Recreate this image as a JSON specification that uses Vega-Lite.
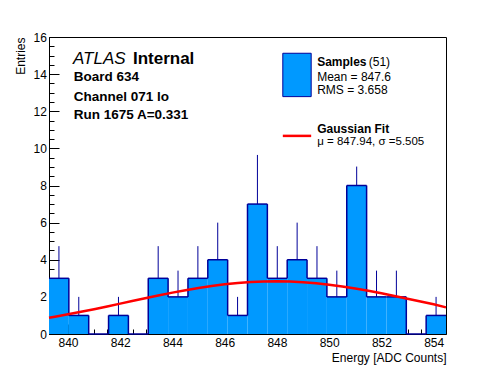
{
  "$schema": "https://vega.github.io/schema/vega-lite/v6.json",
  "width": 397,
  "height": 297,
  "autosize": "none",
  "padding": {"left": 49, "top": 37, "right": 50, "bottom": 38},
  "background": "white",
  "config": {
    "view": {"stroke": "black", "strokeWidth": 1},
    "font": "Liberation Sans",
    "text": {"font": "Liberation Sans", "color": "black"},
    "axis": {
      "grid": false,
      "zindex": 1,
      "domainColor": "black",
      "domainWidth": 1,
      "tickColor": "black",
      "tickWidth": 1,
      "labelFont": "Liberation Sans",
      "labelFontSize": 12,
      "labelColor": "black",
      "titleFont": "Liberation Sans",
      "titleFontSize": 12,
      "titleFontWeight": "normal",
      "titleColor": "black",
      "labelOverlap": false,
      "labelFlush": false
    }
  },
  "resolve": {"axis": {"x": "independent", "y": "independent"}},
  "data": {"values": [{}]},
  "datasets": {
    "hist": [
      {"lo": 839.273, "hi": 840.033, "c": 839.653, "n": 3, "up": 4.732},
      {"lo": 840.033, "hi": 840.793, "c": 840.413, "n": 1, "up": 2},
      {"lo": 840.793, "hi": 841.553, "c": 841.173, "n": 0, "up": 0},
      {"lo": 841.553, "hi": 842.313, "c": 841.933, "n": 1, "up": 2},
      {"lo": 842.313, "hi": 843.073, "c": 842.693, "n": 0, "up": 0},
      {"lo": 843.073, "hi": 843.833, "c": 843.453, "n": 3, "up": 4.732},
      {"lo": 843.833, "hi": 844.593, "c": 844.213, "n": 2, "up": 3.414},
      {"lo": 844.593, "hi": 845.353, "c": 844.973, "n": 3, "up": 4.732},
      {"lo": 845.353, "hi": 846.113, "c": 845.733, "n": 4, "up": 6},
      {"lo": 846.113, "hi": 846.873, "c": 846.493, "n": 1, "up": 2},
      {"lo": 846.873, "hi": 847.633, "c": 847.253, "n": 7, "up": 9.646},
      {"lo": 847.633, "hi": 848.393, "c": 848.013, "n": 3, "up": 4.732},
      {"lo": 848.393, "hi": 849.153, "c": 848.773, "n": 4, "up": 6},
      {"lo": 849.153, "hi": 849.913, "c": 849.533, "n": 3, "up": 4.732},
      {"lo": 849.913, "hi": 850.673, "c": 850.293, "n": 2, "up": 3.414},
      {"lo": 850.673, "hi": 851.433, "c": 851.053, "n": 8, "up": 9.02},
      {"lo": 851.433, "hi": 852.193, "c": 851.813, "n": 2, "up": 3.414},
      {"lo": 852.193, "hi": 852.953, "c": 852.573, "n": 2, "up": 3.414},
      {"lo": 852.953, "hi": 853.713, "c": 853.333, "n": 0, "up": 0},
      {"lo": 853.713, "hi": 854.473, "c": 854.093, "n": 1, "up": 2}
    ],
    "fit": [
      {"x": 839.273, "y": 0.873},
      {"x": 839.5, "y": 0.933},
      {"x": 840, "y": 1.060},
      {"x": 840.5, "y": 1.196},
      {"x": 841, "y": 1.338},
      {"x": 841.5, "y": 1.486},
      {"x": 842, "y": 1.636},
      {"x": 842.5, "y": 1.789},
      {"x": 843, "y": 1.940},
      {"x": 843.5, "y": 2.087},
      {"x": 844, "y": 2.229},
      {"x": 844.5, "y": 2.361},
      {"x": 845, "y": 2.481},
      {"x": 845.5, "y": 2.588},
      {"x": 846, "y": 2.678},
      {"x": 846.5, "y": 2.749},
      {"x": 847, "y": 2.801},
      {"x": 847.5, "y": 2.831},
      {"x": 848, "y": 2.840},
      {"x": 848.5, "y": 2.826},
      {"x": 849, "y": 2.791},
      {"x": 849.5, "y": 2.734},
      {"x": 850, "y": 2.658},
      {"x": 850.5, "y": 2.564},
      {"x": 851, "y": 2.453},
      {"x": 851.5, "y": 2.330},
      {"x": 852, "y": 2.195},
      {"x": 852.5, "y": 2.052},
      {"x": 853, "y": 1.904},
      {"x": 853.5, "y": 1.752},
      {"x": 854, "y": 1.600},
      {"x": 854.473, "y": 1.435}
    ]
  },
  "layer": [
    {
      "data": {"name": "hist"},
      "mark": {"type": "rect", "fill": "#0099ff", "strokeWidth": 0},
      "encoding": {
        "x": {
          "field": "lo", "type": "quantitative",
          "scale": {"domain": [839.273, 854.473], "nice": false, "zero": false},
          "title": "Energy [ADC Counts]",
          "axis": {
            "orient": "bottom",
            "values": [840, 842, 844, 846, 848, 850, 852, 854],
            "format": "d",
            "tickSize": -10,
            "labelPadding": 13.5,
            "labelOverlap": false,
            "titleAnchor": "end",
            "titleAlign": "right",
            "titlePadding": 4
          }
        },
        "x2": {"field": "hi"},
        "y": {
          "field": "n", "type": "quantitative",
          "scale": {"domain": [0, 16], "nice": false, "zero": true},
          "title": "Entries",
          "axis": {
            "orient": "left",
            "values": [0, 2, 4, 6, 8, 10, 12, 14, 16],
            "format": "d",
            "tickSize": -10,
            "labelPadding": 12.6,
            "labelOverlap": false,
            "titleAnchor": "end",
            "titlePadding": 6
          }
        },
        "y2": {"datum": 0}
      }
    },
    {
      "data": {"name": "hist"},
      "transform": [{"filter": "datum.n > 0"}],
      "mark": {"type": "rule", "stroke": "#000099", "strokeWidth": 1},
      "encoding": {
        "x": {
          "field": "c", "type": "quantitative",
          "axis": {
            "orient": "bottom",
            "values": [839.5, 840.5, 841, 841.5, 842.5, 843, 843.5, 844.5, 845, 845.5, 846.5, 847, 847.5, 848.5, 849, 849.5, 850.5, 851, 851.5, 852.5, 853, 853.5],
            "tickSize": -5,
            "labels": false,
            "domain": false,
            "title": null
          }
        },
        "y": {
          "field": "n", "type": "quantitative",
          "axis": {
            "orient": "left",
            "values": [0.5, 1, 1.5, 2.5, 3, 3.5, 4.5, 5, 5.5, 6.5, 7, 7.5, 8.5, 9, 9.5, 10.5, 11, 11.5, 12.5, 13, 13.5, 14.5, 15, 15.5],
            "tickSize": -5,
            "labels": false,
            "domain": false,
            "title": null
          }
        },
        "y2": {"field": "up"}
      }
    },
    {
      "data": {"name": "hist"},
      "mark": {"type": "rule", "stroke": "#000099", "strokeWidth": 1.5},
      "encoding": {
        "x": {"field": "lo", "type": "quantitative", "axis": null},
        "x2": {"field": "hi"},
        "y": {"field": "n", "type": "quantitative", "axis": null}
      }
    },
    {
      "data": {"name": "hist"},
      "transform": [
        {"window": [{"op": "lag", "field": "n", "as": "prev"}], "sort": [{"field": "lo"}]},
        {"filter": "datum.prev != null"}
      ],
      "mark": {"type": "rule", "stroke": "#000099", "strokeWidth": 1.5},
      "encoding": {
        "x": {"field": "lo", "type": "quantitative", "axis": null},
        "y": {"field": "prev", "type": "quantitative", "axis": null},
        "y2": {"field": "n"}
      }
    },
    {
      "data": {"name": "fit"},
      "mark": {"type": "line", "stroke": "#ff0000", "strokeWidth": 2.5},
      "encoding": {
        "x": {"field": "x", "type": "quantitative", "axis": null},
        "y": {"field": "y", "type": "quantitative", "axis": null}
      }
    },
    {
      "mark": {"type": "text", "text": "ATLAS", "align": "left", "baseline": "alphabetic", "fontSize": 17, "fontStyle": "italic"},
      "encoding": {"x": {"datum": 840.191, "type": "quantitative", "axis": null}, "y": {"datum": 14.548, "type": "quantitative", "axis": null}}
    },
    {
      "mark": {"type": "text", "text": "Internal", "align": "left", "baseline": "alphabetic", "fontSize": 17, "fontWeight": "bold"},
      "encoding": {"x": {"datum": 842.486, "type": "quantitative", "axis": null}, "y": {"datum": 14.548, "type": "quantitative", "axis": null}}
    },
    {
      "mark": {"type": "text", "text": "Board 634", "align": "left", "baseline": "alphabetic", "fontSize": 13.5, "fontWeight": "bold"},
      "encoding": {"x": {"datum": 840.218, "type": "quantitative", "axis": null}, "y": {"datum": 13.633, "type": "quantitative", "axis": null}}
    },
    {
      "mark": {"type": "text", "text": "Channel 071 lo", "align": "left", "baseline": "alphabetic", "fontSize": 13.5, "fontWeight": "bold"},
      "encoding": {"x": {"datum": 840.218, "type": "quantitative", "axis": null}, "y": {"datum": 12.573, "type": "quantitative", "axis": null}}
    },
    {
      "mark": {"type": "text", "text": "Run 1675 A=0.331", "align": "left", "baseline": "alphabetic", "fontSize": 13.5, "fontWeight": "bold"},
      "encoding": {"x": {"datum": 840.218, "type": "quantitative", "axis": null}, "y": {"datum": 11.588, "type": "quantitative", "axis": null}}
    },
    {
      "mark": {"type": "rect", "fill": "#0099ff", "stroke": "#000099", "strokeWidth": 1},
      "encoding": {
        "x": {"datum": 848.225, "type": "quantitative", "axis": null}, "x2": {"datum": 849.311},
        "y": {"datum": 15.124, "type": "quantitative", "axis": null}, "y2": {"datum": 12.788}
      }
    },
    {
      "mark": {"type": "rule", "stroke": "#ff0000", "strokeWidth": 2.5},
      "encoding": {
        "x": {"datum": 848.225, "type": "quantitative", "axis": null}, "x2": {"datum": 849.311},
        "y": {"datum": 10.673, "type": "quantitative", "axis": null}
      }
    },
    {
      "mark": {"type": "text", "text": "Samples", "align": "left", "baseline": "alphabetic", "fontSize": 12, "fontWeight": "bold"},
      "encoding": {"x": {"datum": 849.541, "type": "quantitative", "axis": null}, "y": {"datum": 14.44, "type": "quantitative", "axis": null}}
    },
    {
      "mark": {"type": "text", "text": "(51)", "align": "left", "baseline": "alphabetic", "fontSize": 12},
      "encoding": {"x": {"datum": 851.515, "type": "quantitative", "axis": null}, "y": {"datum": 14.44, "type": "quantitative", "axis": null}}
    },
    {
      "mark": {"type": "text", "text": "Mean = 847.6", "align": "left", "baseline": "alphabetic", "fontSize": 12},
      "encoding": {"x": {"datum": 849.541, "type": "quantitative", "axis": null}, "y": {"datum": 13.649, "type": "quantitative", "axis": null}}
    },
    {
      "mark": {"type": "text", "text": "RMS = 3.658", "align": "left", "baseline": "alphabetic", "fontSize": 12},
      "encoding": {"x": {"datum": 849.541, "type": "quantitative", "axis": null}, "y": {"datum": 12.917, "type": "quantitative", "axis": null}}
    },
    {
      "mark": {"type": "text", "text": "Gaussian Fit", "align": "left", "baseline": "alphabetic", "fontSize": 12, "fontWeight": "bold"},
      "encoding": {"x": {"datum": 849.541, "type": "quantitative", "axis": null}, "y": {"datum": 10.818, "type": "quantitative", "axis": null}}
    },
    {
      "mark": {"type": "text", "text": "μ = 847.94, σ =5.505", "align": "left", "baseline": "alphabetic", "fontSize": 11.5},
      "encoding": {"x": {"datum": 849.541, "type": "quantitative", "axis": null}, "y": {"datum": 10.16, "type": "quantitative", "axis": null}}
    }
  ]
}
